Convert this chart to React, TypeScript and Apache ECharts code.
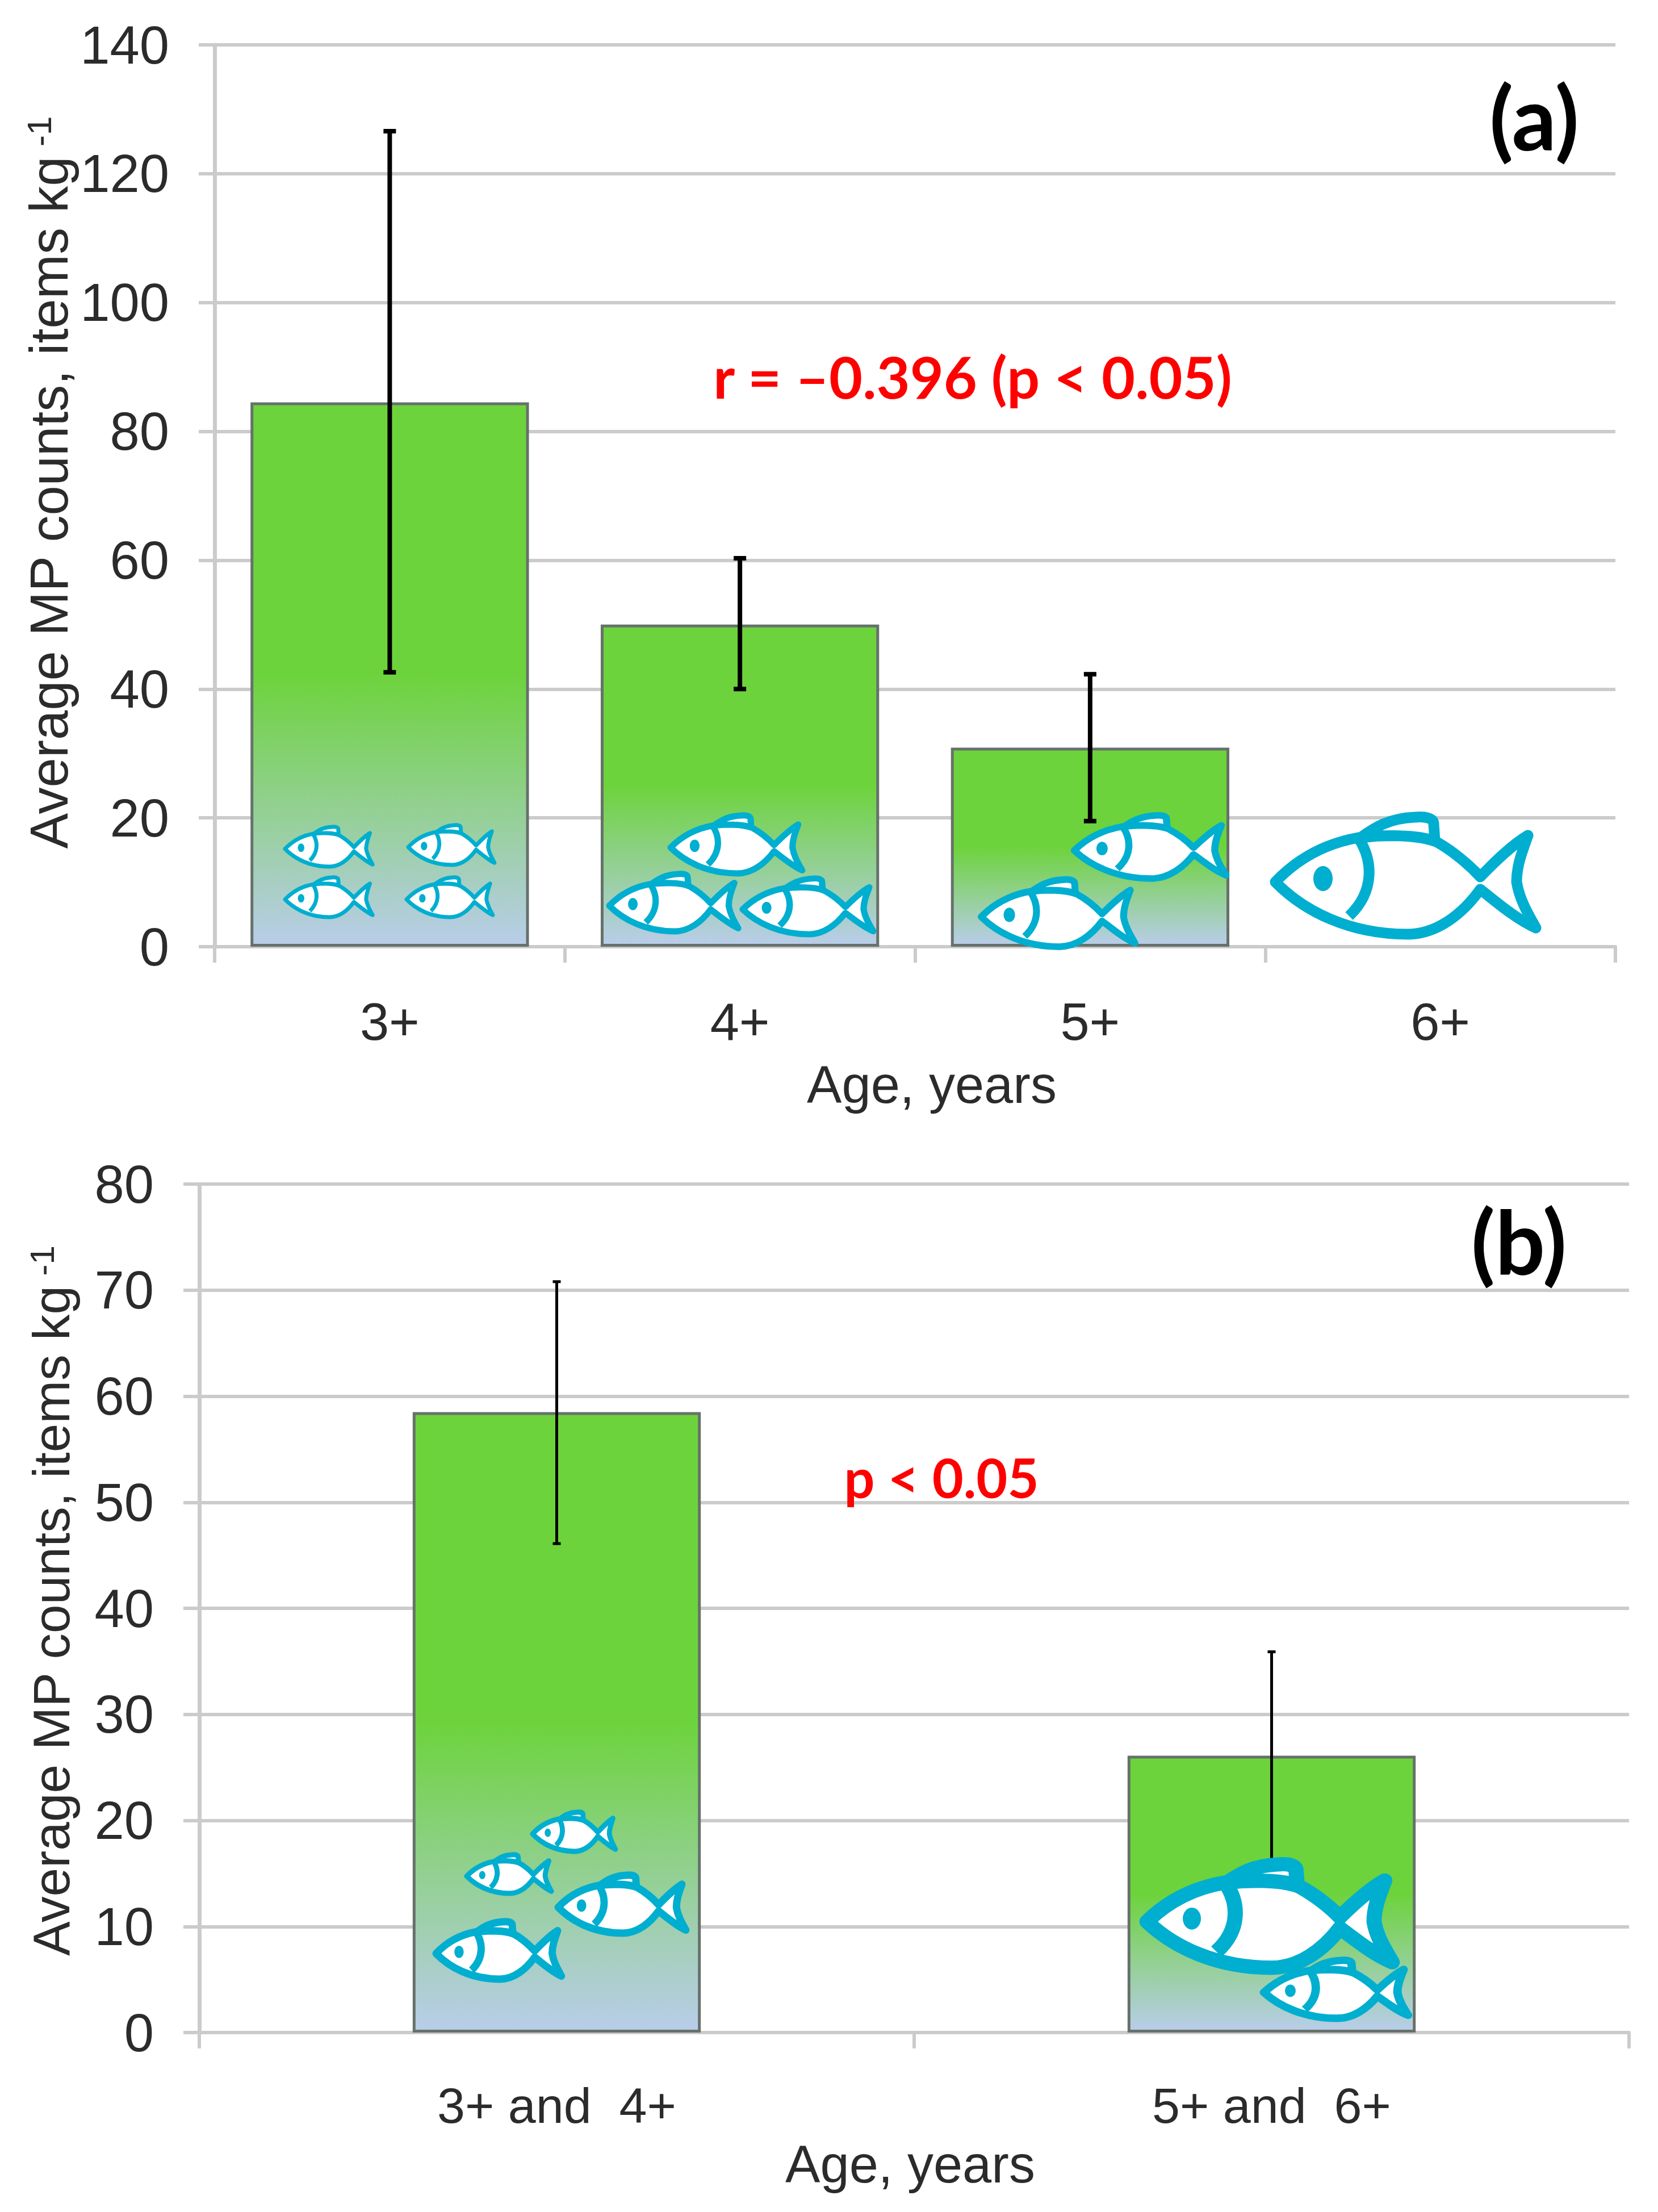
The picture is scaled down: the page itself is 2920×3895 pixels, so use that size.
import { useEffect, useRef } from "react";
import * as echarts from "echarts";

const agesA = ["3+", "4+", "5+", "6+"];
const meansA = [84.5, 50.0, 30.9, null];
const errLowA = [42.6, 40.0, 19.5, null];
const errHighA = [126.6, 60.3, 42.3, null];
const ticksA = { max: 140, interval: 20 };

const agesB = ["3+ and  4+", "5+ and  6+"];
const meansB = [58.5, 26.1];
const errLowB = [46.1, 15.9];
const errHighB = [70.8, 35.9];
const ticksB = { max: 80, interval: 10 };

const yTitle = "Average MP counts, items kg";
const xTitle = "Age, years";

const TEXT = "#2b2b2b";
const GRID = "#cbcbcb";
const FISH = "#00aed0";

// fish icon drawn on a 459 x 206 box: outline, fin, gill
const FISH_D =
  "M0 114 C40 72 90 46 146 36 C190 31 250 30 285 44 C310 58 340 82 361 105 C385 80 415 50 445 32 C435 60 425 85 425 114 C430 145 445 170 459 195 C425 180 390 150 361 127 C330 170 285 206 233 206 C130 206 50 165 0 114 Z " +
  "M150 36 C175 18 200 2 245 0 C265 -2 279 2 279 12 L281 42 C250 30 190 31 150 36 Z " +
  "M146 36 C172 75 176 130 130 174";
echarts.graphic.registerShape("fish", echarts.graphic.extendPath(FISH_D, {}));

// x, y, width, height, outline width in px
const fishIcons = [
  [502, 1456, 154, 70, 7],
  [719, 1453, 152, 70, 7],
  [502, 1545, 154, 70, 7],
  [716, 1545, 152, 70, 7],
  [1181, 1436, 232, 102, 11],
  [1073, 1539, 227, 101, 11],
  [1308, 1547, 230, 98, 11],
  [1892, 1436, 267, 111, 12],
  [1728, 1549, 271, 118, 12],
  [2246, 1439, 459, 206, 19],
  [938, 3191, 146, 69, 9],
  [822, 3266, 149, 68, 9],
  [983, 3302, 225, 102, 13],
  [768, 3384, 221, 101, 13],
  [2020, 3283, 432, 182, 26],
  [2226, 3452, 254, 102, 14],
];

function fishElement([x, y, w, h, stroke]: number[]) {
  const sx = w / 459;
  const sy = h / 206;
  const lineWidth = stroke / Math.sqrt(sx * sy);
  return {
    type: "group",
    x,
    y,
    scaleX: sx,
    scaleY: sy,
    z: 100,
    children: [
      { type: "fish", z: 100, style: { fill: "#fff", stroke: FISH, lineWidth, lineJoin: "round" } },
      { type: "ellipse", z: 101, shape: { cx: 84, cy: 108, rx: 17, ry: 22 }, style: { fill: FISH } },
    ],
  };
}

function label(x: number, y: number, text: string, fontSize: number, fill: string, fontFamily = "Lato", fontWeight = "bold") {
  return { type: "text", x, y, z: 110, style: { text, fontSize, fill, fontFamily, fontWeight, align: "center", verticalAlign: "middle" } };
}

function yTitleEl(x: number, y: number, fontSize: number) {
  return {
    type: "text",
    x,
    y,
    rotation: Math.PI / 2,
    z: 110,
    style: {
      text: `{t|${yTitle}}{s| -1}`,
      align: "center",
      verticalAlign: "middle",
      rich: {
        t: { fontSize, fontFamily: "Liberation Sans", fill: TEXT },
        s: { fontSize: 60, fontFamily: "Liberation Sans", fill: TEXT, verticalAlign: "top", padding: [0, 0, 32, 0] },
      },
    },
  };
}

function errorSeries(xi: number, low: (number | null)[], high: (number | null)[], width: number, capW: number) {
  return {
    type: "custom",
    xAxisIndex: xi,
    yAxisIndex: xi,
    z: 5,
    encode: { x: 0, y: [1, 2] },
    data: low.map((v, i) => [i, v, high[i]]),
    renderItem: (_: any, api: any) => {
      if (api.value(1) == null || isNaN(api.value(1))) return null;
      const a = api.coord([api.value(0), api.value(1)]);
      const b = api.coord([api.value(0), api.value(2)]);
      const style = { stroke: "#000", lineWidth: width };
      const line = (x1: number, y1: number, x2: number, y2: number) => ({
        type: "line",
        shape: { x1, y1, x2, y2 },
        style,
      });
      return {
        type: "group",
        children: [
          line(a[0], a[1], b[0], b[1]),
          line(a[0] - capW / 2, a[1], a[0] + capW / 2, a[1]),
          line(b[0] - capW / 2, b[1], b[0] + capW / 2, b[1]),
        ],
      };
    },
  };
}

function barSeries(xi: number, data: (number | null)[], barWidth: string, borderWidth: number) {
  return {
    type: "bar",
    xAxisIndex: xi,
    yAxisIndex: xi,
    data,
    barWidth,
    z: 3,
    itemStyle: {
      borderColor: "#66716b",
      borderWidth,
      color: new echarts.graphic.LinearGradient(0, 0, 0, 1, [
        { offset: 0, color: "#6dd33c" },
        { offset: 0.5, color: "#6dd33c" },
        { offset: 1, color: "#b9cdea" },
      ]),
    },
  };
}

function xAxis(gridIndex: number, data: string[], margin: number, fontSize: number) {
  return {
    type: "category",
    gridIndex,
    data,
    axisLine: { show: true, lineStyle: { color: GRID, width: 6 } },
    axisTick: { show: true, length: 28, interval: 0, alignWithLabel: false, lineStyle: { color: GRID, width: 6 } },
    axisLabel: { interval: 0, margin, fontSize, color: TEXT, fontFamily: "Liberation Sans" },
    splitLine: { show: false },
  };
}

function yAxis(gridIndex: number, t: { max: number; interval: number }) {
  return {
    type: "value",
    gridIndex,
    min: 0,
    max: t.max,
    interval: t.interval,
    axisLine: { show: true, lineStyle: { color: GRID, width: 7 } },
    axisTick: { show: true, length: 28, lineStyle: { color: GRID, width: 6 } },
    axisLabel: { margin: 80, fontSize: 94, color: TEXT, fontFamily: "Liberation Sans" },
    splitLine: { show: true, lineStyle: { color: GRID, width: 6 } },
  };
}

export default function App() {
  const ref = useRef<HTMLDivElement>(null);

  useEffect(() => {
    document.body.style.margin = "0";
    const chart = echarts.init(ref.current!, null, { renderer: "svg" });
    chart.setOption({
      animation: false,
      backgroundColor: "#fff",
      grid: [
        { left: 378, top: 79, width: 2467, height: 1588 },
        { left: 351, top: 2085, width: 2518, height: 1494 },
      ],
      xAxis: [xAxis(0, agesA, 86, 92), xAxis(1, agesB, 84, 88)],
      yAxis: [yAxis(0, ticksA), yAxis(1, ticksB)],
      series: [
        barSeries(0, meansA, "79.5%", 5),
        errorSeries(0, errLowA, errHighA, 8, 22),
        barSeries(1, meansB, "40.3%", 5),
        errorSeries(1, errLowB, errHighB, 5, 14),
      ],
      graphic: {
        elements: [
          ...fishIcons.map(fishElement),
          yTitleEl(86, 850, 94),
          yTitleEl(90, 2819, 91),
          label(1641, 1910, xTitle, 92, TEXT, "Liberation Sans", "normal"),
          label(1603, 3811, xTitle, 92, TEXT, "Liberation Sans", "normal"),
          label(2702, 205, "(a)", 155, "#000"),
          label(2675, 2184, "(b)", 155, "#000"),
          label(1713, 662, "r = \u20130.396 (p < 0.05)", 102, "#ff0000"),
          label(1658, 2601, "p < 0.05", 95, "#ff0000"),
        ],
      },
    });
    return () => chart.dispose();
  }, []);

  return <div ref={ref} style={{ width: 2920, height: 3895 }} />;
}
